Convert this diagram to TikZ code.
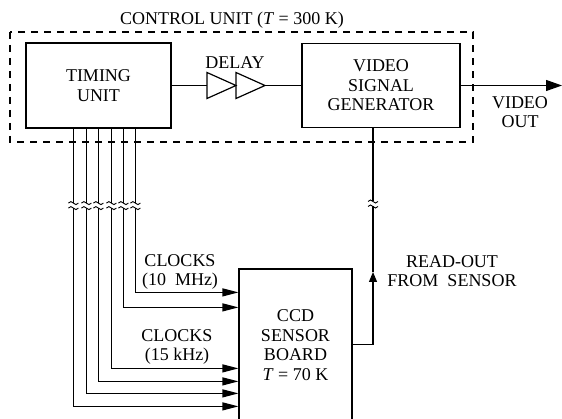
\documentclass[tikz,border=0pt]{standalone}
\usepackage{fontspec}
\setmainfont{Liberation Serif}
\usetikzlibrary{arrows.meta}

\begin{document}
\begin{tikzpicture}[x=1pt, y=-1pt, line width=1.2pt,
    every node/.style={font=\fontsize{18}{19.5}\selectfont, align=center},
    blk/.style={draw, inner sep=0pt},
    clk/.style={-{Triangle[length=16pt, width=8pt]}},
    brk/.pic={
      \fill[white] (-3,-2.5) rectangle (3,2.5);
      \draw[line width=0.9pt] (-5,-2.5) sin (-2.5,-4) cos (0,-2.5) sin (2.5,-1) cos (5,-2.5);
      \draw[line width=0.9pt] (-5,2.5) sin (-2.5,1) cos (0,2.5) sin (2.5,4) cos (5,2.5);
    }]
  \useasboundingbox (0,0) rectangle (562,419);

  % Control unit
  \draw[dash pattern=on 7pt off 6pt] (10,32) rectangle (473,142);
  \node (title) at (232,20) {CONTROL UNIT (\textit{T} = 300 K)};

  \node[blk, minimum width=145pt, minimum height=85pt] (timing) at (98.5,85.5) {TIMING\\UNIT};
  \node[blk, minimum width=158pt, minimum height=84pt] (vsg) at (381,85.5) {VIDEO\\SIGNAL\\GENERATOR};

  % Delay
  \coordinate (d1) at (207,85.5);
  \coordinate (d2) at (236,85.5);
  \coordinate (d3) at (265,85.5);
  \draw (timing.east) -- (d1);
  \draw (d1) ++(0,-13) -- ++(0,26) -- (d2) -- cycle;
  \draw (d2) ++(0,-13) -- ++(0,26) -- (d3) -- cycle;
  \draw (d3) -- (vsg.west);
  \node (delaylbl) at (235,63) {DELAY};

  % Video out
  \coordinate (vout) at (562,85.5);
  \draw[-{Triangle[length=16pt, width=11pt]}] (vsg.east) -- (vout);
  \node (voutlbl) at (520,112) {VIDEO\\OUT};

  % Sensor board
  \node[blk, minimum width=113pt, minimum height=152pt] (ccd) at (295.5,345) {CCD\\SENSOR\\BOARD\\\textit{T} = 70 K};

  % Clock lines
  \foreach \dx/\dy in {110/24, 98/39, 86/100, 73/113, 61/125, 48/138}
    \draw[clk] ([xshift=\dx pt]timing.south west) |- ([yshift=-\dy pt]ccd.north west);
  \foreach \dx in {48, 61, 73, 86, 98, 110}
    \pic at ([xshift=\dx pt, yshift=-77pt]timing.south west) {brk};
  \node (clkA) at (180,272) {CLOCKS\\(10~~MHz)};
  \node (clkB) at (177,347) {CLOCKS\\(15 kHz)};

  % Read-out
  \coordinate (ro) at (373,272);
  \coordinate (robrk) at (373,204);
  \draw (vsg.south -| ro) -- (ro);
  \draw[-{Triangle[length=10pt, width=8pt]}] ([yshift=-76pt]ccd.north east) -| (ro);
  \pic at (robrk) {brk};
  \node (rolbl) at (452,271) {READ-OUT\\FROM~~SENSOR};
\end{tikzpicture}
\end{document}
